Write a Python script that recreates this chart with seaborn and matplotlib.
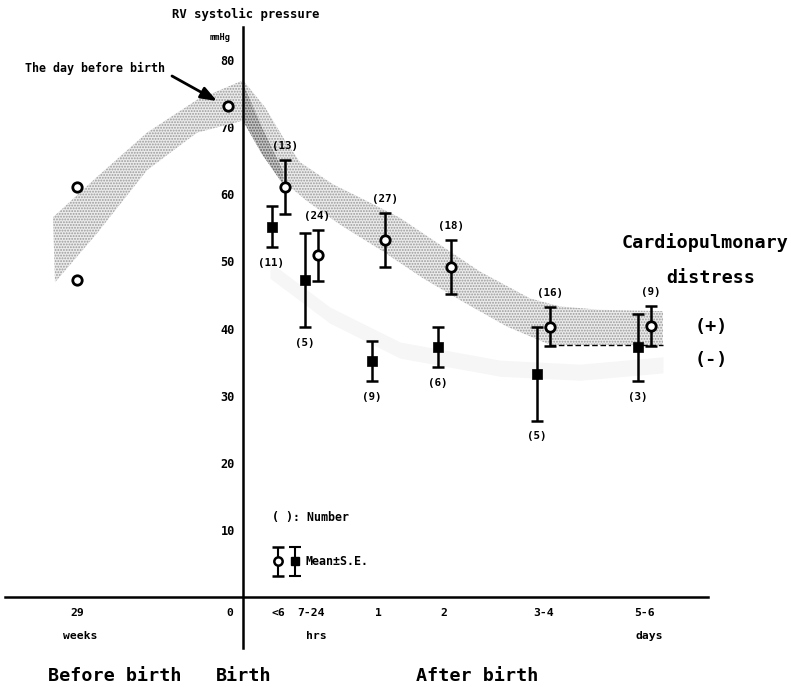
import numpy as np
import pandas as pd
import matplotlib
matplotlib.use("Agg")
import matplotlib.pyplot as plt
import seaborn as sns

# ---------------- data ----------------
before_labels = ["29", "0"]
before_units = "weeks"
fetal_29w = [61.1, 47.2]          # two fetuses at 29 weeks
day_before_birth = [73.1]

after_labels = ["<6", "7-24", "1", "2", "3-4", "5-6"]
distress_mean = [61.1, 50.9, 53.2, 49.2, 40.3, 40.4]      # (+) open circles
distress_se = [4.0, 3.8, 4.0, 4.0, 2.9, 3.0]
distress_n = [13, 24, 27, 18, 16, 9]
nodistress_mean = [55.2, 47.2, 35.2, 37.3, 33.3, 37.2]    # (-) filled squares
nodistress_se = [3.0, 7.0, 3.0, 3.0, 7.0, 5.0]
nodistress_n = [11, 5, 9, 6, 5, 3]

y_ticks = [10, 20, 30, 40, 50, 60, 70, 80]

# shaded band of the (+) group
band_up_x = [53, 97, 147, 197, 243, 265, 283, 300, 333, 367, 400, 430, 480, 530, 560, 600, 663]
band_up_y = [56.6, 62.6, 69.2, 74.1, 77.0, 73.0, 68.5, 64.8, 61.5, 59.0, 56.5, 53.5, 48.5, 44.5, 43.3, 42.8, 42.6]
band_lo_x = [55, 97, 147, 197, 243, 262, 283, 307, 340, 383, 423, 463, 507, 550, 663]
band_lo_y = [46.9, 54.2, 63.6, 69.2, 71.0, 66.0, 62.0, 59.0, 55.5, 51.5, 47.5, 44.0, 40.3, 37.6, 37.6]
# darker stripe just after birth
dark_up_x = [243, 262, 283]
dark_up_y = [76.5, 70.0, 63.5]
dark_lo_x = [243, 262, 283]
dark_lo_y = [71.0, 66.0, 61.5]
# faint band of the (-) group
faint_x = [270, 330, 400, 500, 580, 663]
faint_mid = [48.7, 42.0, 36.8, 34.1, 33.5, 34.6]
dashed_x = [550, 663]
dashed_y = [37.6, 37.6]

legend_mean = 5.3
legend_se = 2.2

# ---------------- layout ----------------
W, H = 791, 687
PX_PER_UNIT = 6.71
ZERO_PX = 597
x_birth = 243
x_29w = 77
x_daybefore = 228
after_pos = [278, 311, 378, 444, 543.5, 644.5]
pair_off = 6.5

sns.set_theme(style="white")
plt.rcParams["font.family"] = ["DejaVu Sans Mono", "DejaVu Sans"]
plt.rcParams["font.weight"] = "bold"
plt.rcParams["hatch.linewidth"] = 0.9
for k in ["text.color", "axes.labelcolor", "xtick.color", "ytick.color"]:
    plt.rcParams[k] = "black"

fig = plt.figure(figsize=(W / 100, H / 100), dpi=100)
ax = fig.add_axes([0, 0, 1, 1])
ax.set_xlim(0, W)
ax.set_ylim(-(H - ZERO_PX) / PX_PER_UNIT, ZERO_PX / PX_PER_UNIT)
ax.set_facecolor("white")

# ---- bands ----
poly_x = band_up_x + band_lo_x[::-1]
poly_y = band_up_y + band_lo_y[::-1]
ax.fill(poly_x, poly_y, facecolor="#ebebeb", edgecolor="#9a9a9a", hatch="......",
        linewidth=0, zorder=1)
ax.fill(dark_up_x + dark_lo_x[::-1], dark_up_y + dark_lo_y[::-1], facecolor="#c4c4c4",
        edgecolor="#5a5a5a", hatch="......", linewidth=0, zorder=1)
fm = np.array(faint_mid)
ax.fill_between(faint_x, fm - 1.2, fm + 1.2, color="#f6f6f6", linewidth=0, zorder=1)
ax.plot(dashed_x, dashed_y, color="black", lw=1.0, ls=(0, (4, 2)), zorder=2)

# ---- error bars ----
open_x = [p + pair_off for p in after_pos]
fill_x = [p - pair_off for p in after_pos]
ax.errorbar(open_x, distress_mean, yerr=distress_se, fmt="none", ecolor="black",
            elinewidth=1.8, capsize=4.5, capthick=1.8, zorder=3)
ax.errorbar(fill_x, nodistress_mean, yerr=nodistress_se, fmt="none", ecolor="black",
            elinewidth=1.8, capsize=4.5, capthick=1.8, zorder=3)

# ---- markers ----
df_open = pd.DataFrame({"x": open_x + [x_29w, x_29w, x_daybefore],
                        "y": distress_mean + fetal_29w + day_before_birth})
df_fill = pd.DataFrame({"x": fill_x, "y": nodistress_mean})
sns.scatterplot(data=df_open, x="x", y="y", marker="o", s=46, facecolor="white",
                edgecolor="black", linewidth=2.0, zorder=4, ax=ax)
sns.scatterplot(data=df_fill, x="x", y="y", marker="s", s=48, color="black",
                edgecolor="black", linewidth=0.5, zorder=4, ax=ax)

# ---- n labels ----
for x, m, s, n in zip(open_x, distress_mean, distress_se, distress_n):
    ax.annotate(f"({n})", (x, m + s), xytext=(0, 10), textcoords="offset points",
                ha="center", va="center", fontsize=7.8, fontweight="bold")
for x, m, s, n in zip(fill_x, nodistress_mean, nodistress_se, nodistress_n):
    ax.annotate(f"({n})", (x, m - s), xytext=(0, -11.5), textcoords="offset points",
                ha="center", va="center", fontsize=7.8, fontweight="bold")

# ---- axes ----
for side in ["top", "right"]:
    ax.spines[side].set_visible(False)
ax.spines["left"].set_position(("data", x_birth))
ax.spines["left"].set_bounds(-7.6, 84.9)
ax.spines["bottom"].set_position(("data", 0))
ax.spines["bottom"].set_bounds(5, 708)
for side in ["left", "bottom"]:
    ax.spines[side].set_color("black")
    ax.spines[side].set_linewidth(1.8)
    ax.spines[side].set_zorder(5)

ax.set_yticks(y_ticks)
ax.set_yticklabels([str(t) for t in y_ticks])
ax.tick_params(axis="y", length=0, pad=6, labelsize=8.6)
ax.set_xticks([x_29w, x_daybefore + 2] + after_pos)
ax.set_xticklabels(before_labels + after_labels)
ax.tick_params(axis="x", length=0, pad=8, labelsize=8.2)
for lab in ax.get_xticklabels() + ax.get_yticklabels():
    lab.set_fontweight("bold")
ax.set_xlabel("")
ax.set_ylabel("")

row2 = -(636 - ZERO_PX) / PX_PER_UNIT
ax.text(x_29w + 3, row2, before_units, ha="center", va="center", fontsize=8.2, fontweight="bold")
ax.text(after_pos[1] + 5, row2, "hrs", ha="center", va="center", fontsize=8.2, fontweight="bold")
ax.text(after_pos[5] + 5, row2, "days", ha="center", va="center", fontsize=8.2, fontweight="bold")

row3 = -(676 - ZERO_PX) / PX_PER_UNIT
ax.text(115, row3, "Before birth", ha="center", va="center", fontsize=13.2, fontweight="bold")
ax.text(244, row3, "Birth", ha="center", va="center", fontsize=13.2, fontweight="bold")
ax.text(477, row3, "After birth", ha="center", va="center", fontsize=13.2, fontweight="bold")

# titles / labels
ax.text(246, (ZERO_PX - 14) / PX_PER_UNIT, "RV systolic pressure", ha="center", va="center",
        fontsize=8.8, fontweight="bold")
ax.text(220, (ZERO_PX - 37) / PX_PER_UNIT, "mmHg", ha="center", va="center",
        fontsize=6.2, fontweight="bold")
ax.text(25, (ZERO_PX - 68) / PX_PER_UNIT, "The day before birth", ha="left", va="center",
        fontsize=8.4, fontweight="bold")
ax.annotate("", xy=(217, (ZERO_PX - 101) / PX_PER_UNIT),
            xytext=(172, (ZERO_PX - 76) / PX_PER_UNIT),
            arrowprops=dict(arrowstyle="-|>,head_length=0.8,head_width=0.3", color="black",
                            lw=2.0, shrinkA=0, shrinkB=0))

ax.text(705, (ZERO_PX - 243) / PX_PER_UNIT, "Cardiopulmonary", ha="center", va="center",
        fontsize=13.2, fontweight="bold")
ax.text(711, (ZERO_PX - 278) / PX_PER_UNIT, "distress", ha="center", va="center",
        fontsize=13.2, fontweight="bold")
ax.text(711, (ZERO_PX - 327) / PX_PER_UNIT, "(+)", ha="center", va="center",
        fontsize=13.2, fontweight="bold")
ax.text(711, (ZERO_PX - 360) / PX_PER_UNIT, "(-)", ha="center", va="center",
        fontsize=13.2, fontweight="bold")

# legend
ax.text(272, (ZERO_PX - 517) / PX_PER_UNIT, "( ): Number", ha="left", va="center",
        fontsize=8.4, fontweight="bold")
ax.errorbar([278], [legend_mean], yerr=[legend_se], fmt="o", mfc="white", mec="black",
            mew=1.8, ms=6, ecolor="black", elinewidth=1.5, capsize=4, capthick=1.5, zorder=4)
ax.errorbar([295], [legend_mean], yerr=[legend_se], fmt="s", mfc="black", mec="black",
            ms=5.5, ecolor="black", elinewidth=1.5, capsize=4, capthick=1.5, zorder=4)
ax.text(306, legend_mean, "Mean\u00b1S.E.", ha="left", va="center", fontsize=8.4,
        fontweight="bold")

fig.savefig("out.png", dpi=100, facecolor="white")
